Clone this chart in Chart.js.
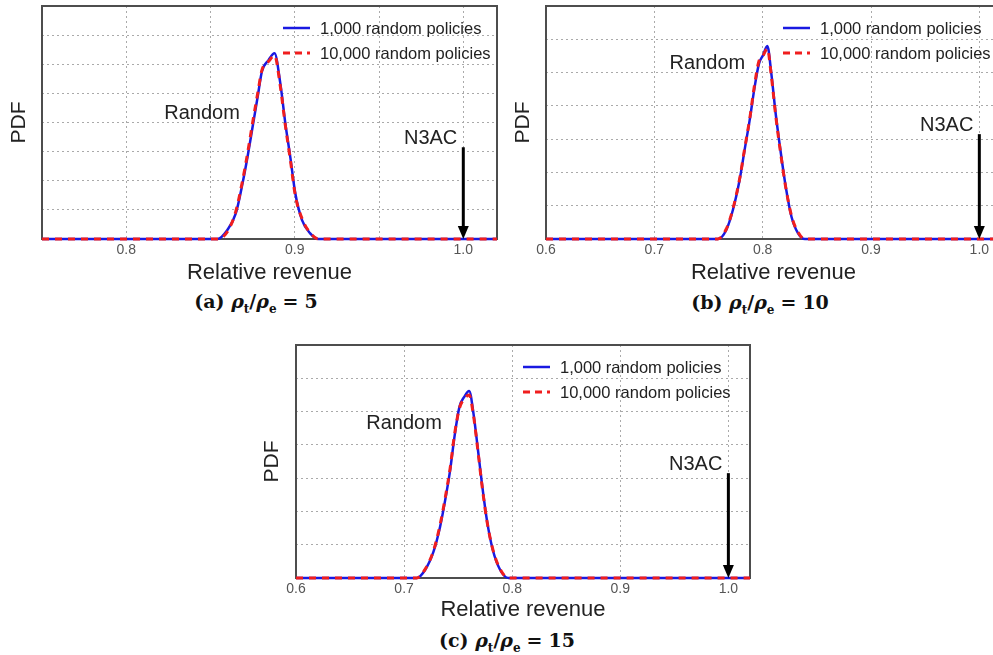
<!DOCTYPE html>
<html>
<head>
<meta charset="utf-8">
<script src="https://cdn.jsdelivr.net/npm/chart.js@4.4.0/dist/chart.umd.min.js"></script>
<style>
  body { margin: 0; background: #fff; overflow: hidden; }
  #wrap { position: relative; width: 993px; height: 655px; overflow: hidden; }
  canvas { position: absolute; }
  .cap { position: absolute; transform: translateX(-50%); font-family: 'DejaVu Serif', 'Liberation Serif', serif;
         font-weight: bold; font-size: 19px; line-height: 22px; color: #111; white-space: nowrap; }
  .cap sub { font-size: 12px; }
  .cap .eq { margin: 0 6px; }
</style>
</head>
<body>
<div id="wrap">
  <canvas id="chartA" width="505" height="290" style="left:0;top:0"></canvas>
  <canvas id="chartB" width="510" height="290" style="left:500px;top:0"></canvas>
  <canvas id="chartC" width="510" height="290" style="left:250px;top:339px"></canvas>
  <div class="cap" style="left:256px;top:290px">(a) <i>ρ</i><sub>t</sub>/<i>ρ</i><sub>e</sub><span class="eq">=</span>5</div>
  <div class="cap" style="left:760px;top:291px">(b) <i>ρ</i><sub>t</sub>/<i>ρ</i><sub>e</sub><span class="eq">=</span>10</div>
  <div class="cap" style="left:507px;top:629px">(c) <i>ρ</i><sub>t</sub>/<i>ρ</i><sub>e</sub><span class="eq">=</span>15</div>
</div>
<script>
// ---- data (PDF in grid units) ----

// (a) rho_t/rho_e = 5
const revenueA = [0.75, 0.854, 0.860, 0.865, 0.869, 0.872, 0.875, 0.878, 0.8805, 0.8845, 0.888, 0.8914, 0.8944, 0.8973, 0.9003, 0.9043, 0.909, 0.914, 1.02];
const pdfA_1k  = [0, 0, 0.31, 0.88, 1.91, 2.83, 3.86, 4.89, 5.75, 6.15, 6.38, 5.35, 3.97, 2.83, 1.57, 0.65, 0.20, 0, 0];
const pdfA_10k = [0, 0, 0.25, 0.95, 2.00, 2.95, 4.00, 5.00, 5.80, 6.10, 6.30, 5.25, 3.90, 2.75, 1.50, 0.70, 0.22, 0, 0];
const gridA = [0.75, 0.8, 0.85, 0.9, 0.95, 1.0];
const labelsA = [0.8, 0.9, 1.0];

// (b) rho_t/rho_e = 10
const revenueB = [0.6, 0.7587, 0.7664, 0.7725, 0.7787, 0.7833, 0.788, 0.7926, 0.7966, 0.8003, 0.8043, 0.808, 0.812, 0.8164, 0.8213, 0.8266, 0.8327, 0.839, 1.02];
const pdfB_1k  = [0, 0, 0.27, 0.87, 1.77, 2.67, 3.57, 4.57, 5.27, 5.52, 5.80, 4.97, 3.77, 2.67, 1.57, 0.67, 0.17, 0, 0];
const pdfB_10k = [0, 0, 0.30, 0.90, 1.80, 2.70, 3.60, 4.65, 5.35, 5.50, 5.72, 4.90, 3.72, 2.62, 1.55, 0.70, 0.20, 0, 0];
const gridB = [0.6, 0.7, 0.8, 0.9, 1.0];
const labelsB = [0.6, 0.7, 0.8, 0.9, 1.0];

// (c) rho_t/rho_e = 15
const revenueC = [0.6, 0.7117, 0.7194, 0.7272, 0.7333, 0.738, 0.7426, 0.7466, 0.7512, 0.7556, 0.7602, 0.7642, 0.768, 0.772, 0.7766, 0.7821, 0.7889, 0.7966, 1.02];
const pdfC_1k  = [0, 0, 0.24, 0.79, 1.54, 2.34, 3.24, 4.24, 5.14, 5.44, 5.62, 4.94, 3.94, 2.84, 1.74, 0.84, 0.24, 0, 0];
const pdfC_10k = [0, 0, 0.26, 0.82, 1.60, 2.40, 3.30, 4.30, 5.10, 5.38, 5.50, 4.88, 3.90, 2.80, 1.72, 0.86, 0.26, 0, 0];
const gridC = [0.6, 0.7, 0.8, 0.9, 1.0];
const labelsC = [0.6, 0.7, 0.8, 0.9, 1.0];

const seriesNames = ['1,000 random policies', '10,000 random policies'];
const n3acRevenue = 1.0;

const SANS = '"Liberation Sans", Arial, sans-serif';

// frame, N3AC arrow, "Random" label and the legend
const decor = {
  id: 'decor',
  beforeDatasetsDraw(chart) {
    const {ctx, chartArea: a} = chart;
    ctx.save();
    ctx.strokeStyle = '#4d4d4d';
    ctx.lineWidth = 2;
    ctx.strokeRect(a.left, a.top, a.right - a.left, a.bottom - a.top);
    ctx.restore();
  },
  afterDraw(chart, args, opts) {
    const {ctx, chartArea: a, scales: {x, y}} = chart;
    ctx.save();
    // arrow
    const ax = x.getPixelForValue(n3acRevenue);
    const ay0 = y.getPixelForValue(opts.arrowTop);
    const ay1 = y.getPixelForValue(0);
    ctx.strokeStyle = '#000';
    ctx.lineWidth = 3;
    ctx.beginPath(); ctx.moveTo(ax, ay0); ctx.lineTo(ax, ay1 - 10); ctx.stroke();
    ctx.fillStyle = '#000';
    ctx.beginPath(); ctx.moveTo(ax - 5.5, ay1 - 13); ctx.lineTo(ax + 5.5, ay1 - 13); ctx.lineTo(ax, ay1); ctx.closePath(); ctx.fill();

    ctx.font = '20px ' + SANS;
    ctx.fillStyle = '#222';
    ctx.textBaseline = 'middle';
    ctx.textAlign = 'right';
    ctx.fillText('N3AC', ax - 6, ay0 - 9);
    ctx.textAlign = 'center';
    ctx.fillText('Random', x.getPixelForValue(opts.random[0]), y.getPixelForValue(opts.random[1]));

    // legend
    ctx.font = '16.5px ' + SANS;
    ctx.textAlign = 'left';
    chart.data.datasets.forEach((ds, i) => {
      const lx = a.left + opts.legendX;
      const ly = a.top + 22 + i * 25;
      ctx.strokeStyle = ds.borderColor;
      ctx.lineWidth = ds.borderWidth;
      ctx.setLineDash(ds.borderDash ? [7, 5] : []);
      ctx.beginPath(); ctx.moveTo(lx, ly); ctx.lineTo(lx + 27, ly); ctx.stroke();
      ctx.setLineDash([]);
      ctx.fillStyle = '#222';
      ctx.fillText(ds.label, lx + 37, ly + 1);
    });
    ctx.restore();
  }
};

function makeChart(id, revenue, pdf1k, pdf10k, opt) {
  new Chart(document.getElementById(id), {
    type: 'line',
    data: {
      datasets: [{
        label: seriesNames[0],
        data: revenue.map((v, i) => ({x: v, y: pdf1k[i]})),
        borderColor: 'rgb(25, 25, 225)',
        borderWidth: 2.5,
        pointRadius: 0,
        cubicInterpolationMode: 'monotone',
        clip: false,
        order: 2
      },
      {
        label: seriesNames[1],
        data: revenue.map((v, i) => ({x: v, y: pdf10k[i]})),
        borderColor: 'rgb(240, 30, 30)',
        borderWidth: 3,
        borderDash: [7, 6],
        pointRadius: 0,
        cubicInterpolationMode: 'monotone',
        clip: false,
        order: 1
      }]
    },
    options: {
      responsive: false,
      animation: false,
      layout: {
        padding: {left: 0, top: opt.padTop, right: opt.padRight, bottom: 0}
      },
      scales: {
        x: {
          type: 'linear',
          min: opt.xMin,
          max: 1.02,
          afterBuildTicks: (scale) => { scale.ticks = opt.grid.map(v => ({value: v})); },
          afterFit: (scale) => { scale.height = 51; },
          grid: {
            color: '#aaa',
            lineWidth: 1,
            drawTicks: false
          },
          border: { display: false, dash: [2, 3] },
          ticks: {
            padding: 3,
            color: '#555',
            font: { family: SANS, size: 14 },
            maxRotation: 0,
            autoSkip: false,
            callback: (v) => opt.labels.includes(v) ? v.toFixed(1) : ''
          },
          title: {
            display: true,
            text: 'Relative revenue',
            color: '#222',
            font: { family: SANS, size: 22 },
            padding: { top: 0, bottom: opt.titleBottom }
          }
        },
        y: {
          min: 0,
          max: opt.yMax,
          afterFit: (scale) => { scale.width = opt.yWidth; },
          grid: {
            color: '#aaa',
            lineWidth: 1,
            drawTicks: false
          },
          border: { display: false, dash: [2, 3] },
          ticks: { display: false, stepSize: 1 },
          title: {
            display: true,
            text: 'PDF',
            color: '#222',
            font: { family: SANS, size: 21 },
            padding: { top: opt.yTitlePad, bottom: 0 }
          }
        }
      },
      plugins: {
        legend: { display: false },
        tooltip: { enabled: false },
        decor: {
          arrowTop: 3.15,
          random: opt.random,
          legendX: opt.legendX
        }
      }
    },
    plugins: [decor]
  });
}

// Chart (a)
makeChart('chartA', revenueA, pdfA_1k, pdfA_10k, {
  xMin: 0.75, grid: gridA, labels: labelsA, yMax: 8,
  padTop: 6, padRight: 8, yWidth: 42, yTitlePad: 7, titleBottom: 4,
  random: [0.845, 4.3], legendX: 241
});

// Chart (b)
makeChart('chartB', revenueB, pdfB_1k, pdfB_10k, {
  xMin: 0.6, grid: gridB, labels: labelsB, yMax: 7,
  padTop: 6, padRight: 9, yWidth: 46, yTitlePad: 11, titleBottom: 4,
  random: [0.749, 5.26], legendX: 237
});

// Chart (c)
makeChart('chartC', revenueC, pdfC_1k, pdfC_10k, {
  xMin: 0.6, grid: gridC, labels: labelsC, yMax: 7,
  padTop: 6, padRight: 10, yWidth: 46, yTitlePad: 10, titleBottom: 6,
  random: [0.7, 4.65], legendX: 227
});
</script>
</body>
</html>
